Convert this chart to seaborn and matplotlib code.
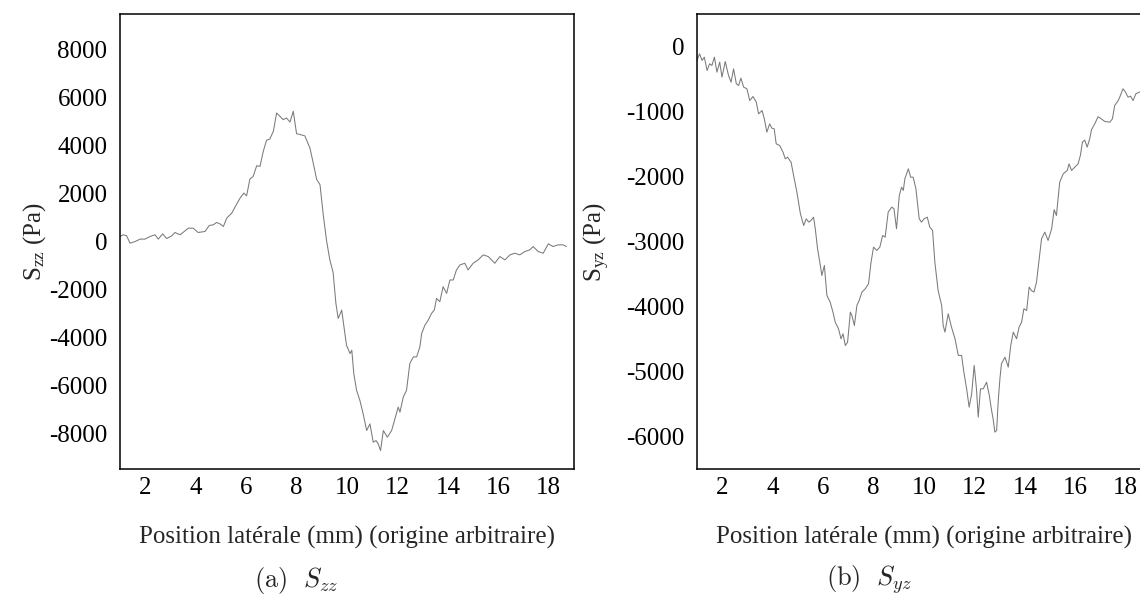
import matplotlib
matplotlib.use("Agg")
import matplotlib.pyplot as plt
import seaborn as sns
import pandas as pd

# ---------------- data ----------------
x_zz = [1.0, 1.13, 1.26, 1.4, 1.6, 1.8, 1.99, 2.19, 2.39, 2.52, 2.69, 2.85, 3.05, 3.18,
        3.38, 3.58, 3.71, 3.9, 4.1, 4.37, 4.54, 4.7, 4.83, 4.96, 5.1, 5.23, 5.43, 5.56,
        5.76, 5.91, 6.02, 6.15, 6.28, 6.42, 6.55, 6.68, 6.81, 6.94, 7.08, 7.21, 7.34,
        7.47, 7.6, 7.74, 7.87, 8.0, 8.13, 8.33, 8.53, 8.66, 8.8, 8.93, 9.06, 9.19, 9.32,
        9.45, 9.56, 9.65, 9.79, 9.88, 9.98, 10.12, 10.19, 10.27, 10.38, 10.51, 10.64,
        10.78, 10.91, 11.04, 11.15, 11.24, 11.33, 11.44, 11.6, 11.77, 11.9, 12.03, 12.1,
        12.23, 12.36, 12.49, 12.63, 12.76, 12.89, 12.96, 13.09, 13.22, 13.35, 13.46,
        13.55, 13.68, 13.81, 13.95, 14.08, 14.21, 14.34, 14.48, 14.67, 14.8, 15.0, 15.2,
        15.4, 15.6, 15.86, 16.06, 16.26, 16.46, 16.65, 16.85, 17.05, 17.25, 17.38, 17.58,
        17.78, 17.98, 18.17, 18.37, 18.57, 18.7]
s_zz = [210, 280, 240, -70, 0, 100, 100, 210, 280, 100, 320, 125, 237, 376,
        280, 446, 557, 557, 376, 418, 670, 697, 795, 739, 627, 976, 1185, 1436,
        1812, 2021, 1910, 2607, 2718, 3164, 3136, 3764, 4224, 4280, 4600, 5367, 5228,
        5088, 5158, 4990, 5437, 4503, 4470, 4410, 3905, 3280, 2585, 2370, 1100, 30, -768,
        -1300, -2585, -3213, -2864, -3562, -4330, -4680, -4540, -5518, -6216, -6635, -7194,
        -7893, -7614, -8382, -8312, -8452, -8731, -7893, -8172, -7893, -7404, -6915, -7125,
        -6496, -6216, -5099, -4819, -4819, -4400, -3841, -3492, -3283, -3004, -2864,
        -2375, -2515, -1886, -2166, -1607, -1607, -1188, -978, -908, -1188, -908, -768,
        -559, -629, -908, -629, -768, -559, -489, -559, -419, -349, -210, -419,
        -489, -98, -210, -140, -140, -210]

x_yz = [1.0, 1.1, 1.2, 1.29, 1.4, 1.5, 1.59, 1.69, 1.79, 1.9, 1.99, 2.12, 2.25, 2.35,
        2.45, 2.56, 2.65, 2.74, 2.85, 2.98, 3.09, 3.22, 3.35, 3.44, 3.58, 3.67, 3.77,
        3.88, 3.97, 4.06, 4.14, 4.28, 4.41, 4.5, 4.59, 4.73, 4.83, 4.96, 5.1, 5.23,
        5.33, 5.43, 5.52, 5.62, 5.69, 5.78, 5.89, 5.95, 6.05, 6.15, 6.28, 6.39, 6.48,
        6.61, 6.71, 6.79, 6.88, 6.97, 7.08, 7.14, 7.24, 7.34, 7.43, 7.54, 7.67, 7.8,
        7.9, 8.0, 8.13, 8.25, 8.36, 8.46, 8.58, 8.72, 8.81, 8.91, 9.02, 9.11, 9.18,
        9.24, 9.38, 9.47, 9.57, 9.68, 9.81, 9.9, 10.0, 10.13, 10.23, 10.34, 10.43,
        10.56, 10.7, 10.76, 10.83, 10.96, 11.09, 11.23, 11.36, 11.49, 11.58, 11.69,
        11.79, 11.89, 11.99, 12.08, 12.15, 12.24, 12.35, 12.48, 12.59, 12.68, 12.74,
        12.81, 12.88, 12.94, 13.01, 13.07, 13.21, 13.34, 13.44, 13.54, 13.67, 13.77,
        13.87, 13.96, 14.07, 14.17, 14.26, 14.36, 14.46, 14.57, 14.66, 14.79, 14.92,
        15.06, 15.16, 15.25, 15.38, 15.52, 15.68, 15.75, 15.85, 15.98, 16.11, 16.2,
        16.28, 16.37, 16.47, 16.57, 16.64, 16.77, 16.9, 17.03, 17.17, 17.37, 17.47,
        17.56, 17.7, 17.76, 17.89, 17.99, 18.09, 18.19, 18.29, 18.4, 18.53, 18.65, 18.75]
s_yz = [-215, -112, -215, -164, -369, -266, -292, -164, -395, -241, -471, -231, -446, -549,
        -344, -574, -600, -487, -625, -651, -831, -769, -856, -1036, -985, -1113, -1318,
        -1190, -1257, -1267, -1497, -1523, -1626, -1728, -1703, -1780, -1985, -2241, -2574, -2754,
        -2651, -2702, -2677, -2626, -2805, -3112, -3369, -3523, -3369, -3830, -3933, -4087, -4241,
        -4343, -4497, -4420, -4600, -4549, -4087, -4138, -4292, -3984, -3907, -3779, -3728, -3651,
        -3318, -3087, -3138, -3086, -2907, -2933, -2549, -2471, -2497, -2804, -2292, -2164, -2215,
        -2036, -1882, -2010, -2010, -2190, -2651, -2702, -2651, -2626, -2779, -2830, -3318,
        -3754, -3984, -4292, -4394, -4112, -4317, -4497, -4753, -4753, -5010, -5266,
        -5548, -5343, -4907, -5266, -5702, -5266, -5266, -5164, -5369, -5600, -5728,
        -5933, -5907, -5471, -5112, -4882, -4779, -4933, -4599, -4394, -4497, -4317,
        -4240, -4035, -4061, -3702, -3754, -3779, -3626, -3266, -2959, -2856, -2984,
        -2805, -2510, -2600, -2087, -1959, -1907, -1805, -1907, -1856, -1805, -1676,
        -1472, -1440, -1548, -1420, -1280, -1190, -1080, -1113, -1154, -1164, -1113,
        -908, -831, -780, -651, -703, -780, -764, -831, -728, -703, -690, -700]

yticks_zz = [-8000, -6000, -4000, -2000, 0, 2000, 4000, 6000, 8000]
yticks_yz = [-6000, -5000, -4000, -3000, -2000, -1000, 0]
xticks = [2, 4, 6, 8, 10, 12, 14, 16, 18]

xlabel = "Position latérale (mm) (origine arbitraire)"
ylabel_zz = r"S$_{\rm zz}$ (Pa)"
ylabel_yz = r"S$_{\rm yz}$ (Pa)"
caption_zz = r"$\mathrm{(a)}\ \ S_{zz}$"
caption_yz = r"$\mathrm{(b)}\ \ S_{yz}$"

# ---------------- style ----------------
sns.set_style("white")
plt.rcParams["font.family"] = ["Liberation Serif", "DejaVu Serif"]
plt.rcParams["mathtext.fontset"] = "custom"
plt.rcParams["mathtext.rm"] = "Liberation Serif"
plt.rcParams["mathtext.it"] = "Liberation Serif:italic"
plt.rcParams["axes.unicode_minus"] = False

FS = 18
fig = plt.figure(figsize=(11.4, 5.97), dpi=100)
W, H = 1140.0, 597.0
ax1 = fig.add_axes([120 / W, 1 - 469 / H, 454 / W, 455 / H])
ax2 = fig.add_axes([697 / W, 1 - 469 / H, 454 / W, 455 / H])

df_zz = pd.DataFrame({"x": x_zz, "s": s_zz})
df_yz = pd.DataFrame({"x": x_yz, "s": s_yz})

for ax, df, yt, ylim, ylab, lcx in [
    (ax1, df_zz, yticks_zz, (-9500, 9500), ylabel_zz, -0.159),
    (ax2, df_yz, yticks_yz, (-6500, 500), ylabel_yz, -0.187),
]:
    sns.lineplot(data=df, x="x", y="s", ax=ax, color="#7a7a7a", linewidth=0.75,
                 estimator=None, sort=False)
    ax.set_xlim(1, 19)
    ax.set_ylim(*ylim)
    ax.set_xticks(xticks)
    ax.set_yticks(yt)
    ax.set_xticklabels([str(t) for t in xticks])
    ax.set_yticklabels([str(t) for t in yt])
    ax.tick_params(direction="in", length=8, width=1.0, labelsize=FS, pad=9,
                   top=False, right=False, colors="black")
    ax.tick_params(axis="x", pad=6)
    for sp in ax.spines.values():
        sp.set_visible(True)
        sp.set_color("black")
        sp.set_linewidth(1.1)
    ax.set_xlabel(xlabel, fontsize=FS)
    ax.xaxis.set_label_coords(0.5, -0.126)
    ax.set_ylabel(ylab, fontsize=FS)
    ax.yaxis.set_label_coords(lcx, 0.5)
    ax.grid(False)

fig.text(296 / W, 1 - 580 / H, caption_zz, ha="center", va="center",
         fontsize=19, math_fontfamily="cm")
fig.text(869 / W, 1 - 580 / H, caption_yz, ha="center", va="center",
         fontsize=19, math_fontfamily="cm")

fig.savefig("out.png", dpi=100, facecolor="white")
